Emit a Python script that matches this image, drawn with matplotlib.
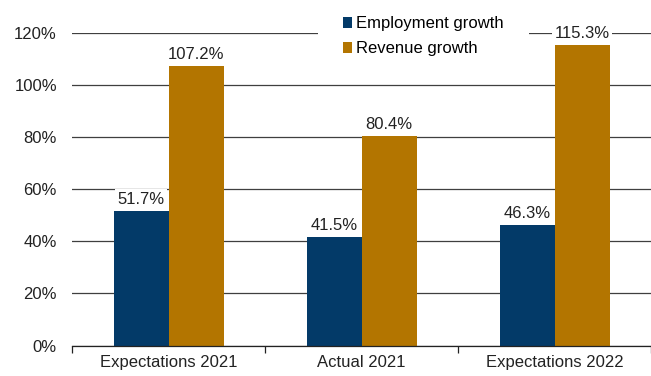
import matplotlib

matplotlib.use("Agg")
import matplotlib.pyplot as plt
import numpy as np

NAVY = "#033A68"
GOLD = "#B37500"
INK = "#222222"
GRID = "#3F3F3F"

categories = ["Expectations 2021", "Actual 2021", "Expectations 2022"]
employment = [51.7, 41.5, 46.3]
revenue = [107.2, 80.4, 115.3]
yticks = [0, 20, 40, 60, 80, 100, 120]

plt.rcParams["font.family"] = ["Liberation Sans", "DejaVu Sans"]

fig = plt.figure(figsize=(6.51, 3.76), dpi=100, facecolor="white")
ax = fig.add_axes([0.111, 0.081, 0.889, 0.832])

x = np.arange(len(categories))
width = 0.285
emp_bars = ax.bar(x - width / 2, employment, width=width, color=NAVY, zorder=2,
                  label="Employment growth")
rev_bars = ax.bar(x + width / 2, revenue, width=width, color=GOLD, zorder=2,
                  label="Revenue growth")

# value labels sit on white boxes so they cut through the gridlines
for bars, vals in ((emp_bars, employment), (rev_bars, revenue)):
    for bar, v in zip(bars, vals):
        ax.annotate(f"{v:.1f}%", (bar.get_x() + bar.get_width() / 2, v),
                    xytext=(0, 3), textcoords="offset points",
                    ha="center", va="bottom", fontsize=12, color=INK, zorder=5,
                    bbox=dict(boxstyle="square,pad=0.15", fc="white", ec="none"))

ax.set_xlim(-0.5, len(categories) - 0.5)
ax.set_ylim(0, 120)
ax.set_yticks(yticks)
ax.set_yticklabels([f"{t}%" for t in yticks])
ax.yaxis.grid(True, color=GRID, linewidth=0.9, zorder=0)
ax.set_axisbelow(True)
ax.tick_params(axis="y", length=0, pad=11, labelsize=12, labelcolor=INK)

# category labels centred, ticks on the boundaries between groups
ax.set_xticks(x)
ax.set_xticklabels(categories)
ax.set_xticks(np.arange(len(categories) + 1) - 0.5, minor=True)
ax.tick_params(axis="x", which="major", length=0, pad=7, labelsize=12, labelcolor=INK)
ax.tick_params(axis="x", which="minor", length=5, width=0.9, direction="out", color=INK)

for side in ("top", "right", "left"):
    ax.spines[side].set_visible(False)
ax.spines["bottom"].set_color(INK)
ax.spines["bottom"].set_linewidth(0.9)

# padded white legend frame blanks out the top gridline behind it
leg = ax.legend(loc="upper left", bbox_to_anchor=(318 / 651, 1 + 9 / 376),
                bbox_transform=fig.transFigure, frameon=True, fancybox=False,
                fontsize=12, handlelength=0.55, handleheight=0.65,
                handletextpad=0.25, labelspacing=0.63, borderpad=1.5,
                borderaxespad=0)
leg.get_frame().set_facecolor("white")
leg.get_frame().set_edgecolor("none")
leg.get_frame().set_alpha(1)
leg.set_zorder(4)

fig.savefig("out.png", dpi=100, facecolor="white")
